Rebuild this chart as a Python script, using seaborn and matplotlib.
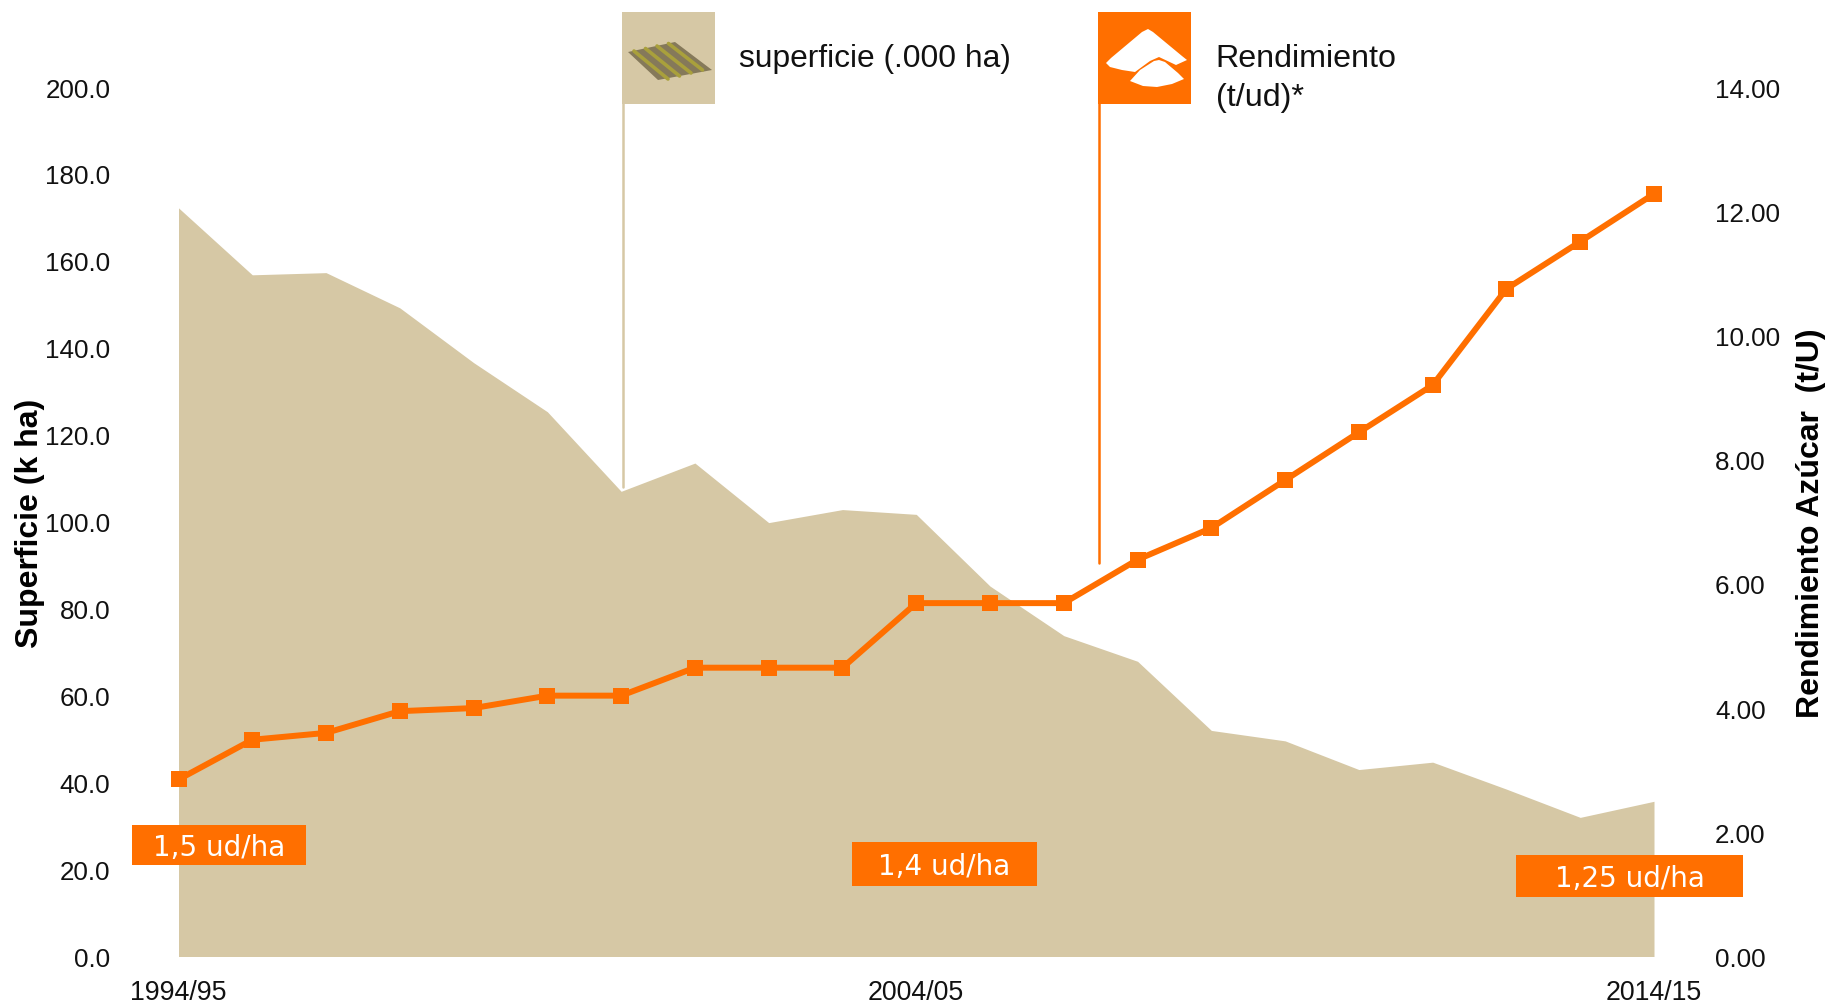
import matplotlib
matplotlib.use('Agg')
import matplotlib.pyplot as plt
import numpy as np
import seaborn as sns
from matplotlib.patches import Polygon, Rectangle

# campaigns
seasons = ['1994/95', '1995/96', '1996/97', '1997/98', '1998/99', '1999/00', '2000/01',
           '2001/02', '2002/03', '2003/04', '2004/05', '2005/06', '2006/07', '2007/08',
           '2008/09', '2009/10', '2010/11', '2011/12', '2012/13', '2013/14', '2014/15']
# superficie (k ha), left axis
superficie = [172.2, 156.8, 157.3, 149.2, 136.6, 125.3, 107.0, 113.5, 99.8, 102.8, 101.7,
              85.2, 73.8, 67.9, 52.0, 49.6, 43.0, 44.7, 38.5, 32.0, 35.7]
# rendimiento (t/U), right axis
rendimiento = [2.85, 3.49, 3.60, 3.95, 4.00, 4.20, 4.20, 4.65, 4.65, 4.65, 5.69,
               5.69, 5.69, 6.39, 6.90, 7.67, 8.44, 9.20, 10.75, 11.51, 12.28]
shown_seasons = ['1994/95', '2004/05', '2014/15']
left_ticks = [0, 20, 40, 60, 80, 100, 120, 140, 160, 180, 200]
right_ticks = [0, 2, 4, 6, 8, 10, 12, 14]

TAN = '#D6C8A5'
ORANGE = '#FF6F00'
W, H = 1831, 1003

sns.set_theme(style='white')
plt.rcParams['font.family'] = ['Liberation Sans', 'DejaVu Sans']

fig = plt.figure(figsize=(W / 100, H / 100), dpi=100)
ax = fig.add_axes([178.5 / W, 1 - 957.5 / H, (1654 - 178.5) / W, (957.5 - 88) / H])
sns.despine(ax=ax, left=True, bottom=True)

xs = np.arange(len(seasons))
ax.fill_between(xs, superficie, 0, color=TAN, lw=0)
ax.set_xlim(0, 20)
ax.set_ylim(0, 200)
ax.set_yticks(left_ticks)
ax.set_yticklabels([f'{v:.1f}' for v in left_ticks], fontsize=18.7, color='#111111')
ax.set_xticks([seasons.index(s) for s in shown_seasons])
ax.set_xticklabels(shown_seasons, fontsize=19.3, color='#111111')
ax.tick_params(axis='y', length=0, pad=49)
ax.tick_params(axis='x', length=0, pad=16.5)

ax2 = ax.twinx()
sns.despine(ax=ax2, left=True, bottom=True, right=True)
sns.lineplot(x=xs, y=rendimiento, ax=ax2, color=ORANGE, marker='s', markersize=11,
             markeredgewidth=0, linewidth=4.3, clip_on=False)
ax2.set_ylim(0, 14)
ax2.set_yticks(right_ticks)
ax2.set_yticklabels([f'{v:.2f}' for v in right_ticks], fontsize=18.7, color='#111111')
ax2.tick_params(axis='y', length=0, pad=44)
ax2.set_ylabel('')

# everything around the chart goes on an overlay in pixel coordinates
ov = fig.add_axes([0, 0, 1, 1], zorder=5)
ov.set_xlim(0, W)
ov.set_ylim(H, 0)
ov.axis('off')
ov.patch.set_alpha(0)

ov.text(30, 523, 'Superficie (k ha)', rotation=90, ha='center', va='center',
        fontsize=23, fontweight='bold', color='black')
ov.text(1811, 523, 'Rendimiento Azúcar  (t/U)', rotation=90, ha='center', va='center',
        fontsize=23, fontweight='bold', color='black')

# flags
ov.add_patch(Rectangle((622, 13), 93, 92, color=TAN, lw=0))
ov.plot([623.5, 623.5], [104, 488], color=TAN, lw=1.8)
ov.add_patch(Rectangle((1098, 13), 93, 92, color=ORANGE, lw=0))
ov.plot([1099, 1099], [104, 564], color=ORANGE, lw=1.8)

# little field icon
ov.add_patch(Polygon([(628, 53), (675, 43), (712, 71), (658, 81)], color='#85795A', lw=0))
for k in range(4):
    ov.plot([634 + k * 11.5, 668 + k * 11.5], [52 - k * 2.5, 80 - k * 3], color='#A9A03C', lw=2.6)

# sacks icon
ov.add_patch(Polygon([(1106, 64), (1111, 59), (1142, 33), (1148, 30), (1153, 33), (1182, 57), (1187, 61),
                      (1176, 66), (1159, 58), (1150, 62), (1135, 73), (1122, 71), (1110, 68)],
                     fc='white', lw=0))
ov.add_patch(Polygon([(1130, 82), (1140, 71), (1154, 62), (1159, 61), (1165, 63), (1178, 74), (1184, 80),
                      (1172, 85), (1157, 88), (1143, 87)], fc='white', lw=0))

ov.text(739, 59, 'superficie (.000 ha)', ha='left', va='center', fontsize=22.9, color='#111111')
ov.text(1215, 59, 'Rendimiento', ha='left', va='center', fontsize=23.2, color='#111111')
ov.text(1216, 98, '(t/ud)*', ha='left', va='center', fontsize=23.2, color='#111111')

# planting density boxes
for x0, x1, y0, y1, txt in [(132, 306, 826, 866, '1,5 ud/ha'),
                            (852, 1037, 843, 887, '1,4 ud/ha'),
                            (1516, 1743, 856, 898, '1,25 ud/ha')]:
    ov.add_patch(Rectangle((x0, y0), x1 - x0, y1 - y0, color=ORANGE, lw=0))
    ov.text((x0 + x1) / 2, (y0 + y1) / 2 + 2, txt, ha='center', va='center', fontsize=20,
            color='white', family='DejaVu Sans')

fig.savefig('out.png', dpi=100)
